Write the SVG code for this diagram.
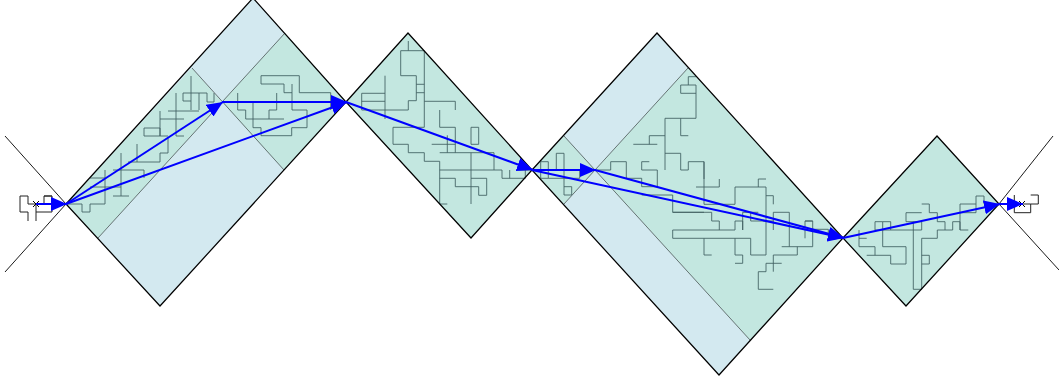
<svg xmlns="http://www.w3.org/2000/svg" width="1059" height="383" viewBox="0 0 1059 383">
<style>
.b{fill:#d3e9f0;stroke:none}
.t{fill:#c3e7e0;stroke:none}
.o{fill:none;stroke:#000;stroke-width:1.25}
.n{fill:none;stroke:#000;stroke-width:.9}
.s{fill:none;stroke:#000;stroke-opacity:.5;stroke-width:1}
.w{fill:none;stroke:#3f5f60;stroke-opacity:.85;stroke-width:1}
.k{fill:none;stroke:#222;stroke-width:1}
.a{fill:none;stroke:#00f;stroke-width:2;marker-end:url(#h)}
</style>
<defs>
<marker id="h" markerUnits="userSpaceOnUse" markerWidth="16" markerHeight="14" refX="16" refY="7" orient="auto"><path d="M0 0L16 7L0 14Z" fill="#00f"/></marker>
</defs>
<g id="region1">
<polygon class="b" points="66,204 253,-2 346,102 160,306"/>
<polygon class="t" points="66,204 192,68 222,102 98,238"/>
<polygon class="t" points="222,102 285,33 346,102 284,170"/>
<path class="s" d="M98 238L285 33M192 68L284 170"/>
<path class="w" d="M66.7 204H82V212H90V204H105V170M90 178H105M90 187H121M121 153V196M113 196H129M113 170H144V178M137 144V162M128 162H160V153H168V137M144 128H160V136H144ZM160 111V136M160 136H168M168 111H199M160 119H184M176 93V136H184M191 76V110M183 93H207V102H214V93M183 93V101H191M199 93V110M237.7 93V110H245.7V119H253V127.7H261V135.7H291.7V127.7H307V110H292V84M253 102V119H284M276.7 93V110H269V119M261 75.7V84H284V92.7H292M261 75.7H299.3V92.7H330.7V110"/>
<path class="o" d="M66 204L253 -2L346 102L160 306Z"/>
</g>
<g id="region2">
<polygon class="t" points="346,102 408,33 532,170 471,238"/>
<path class="w" d="M408.3 41V50.7M400.7 50.7H424.3V127.3H393V144.3H408.3V152.7H424.3V161.3H439.7V204H447.3M400.7 50.7V75.7H416.3V100.7H408.3V110H361.7V93.3H385M385 75.7V119M361.7 101.3H385M416.3 84.3H424.3M416.3 92.7H424.3M424.3 101.3H455.3V110M439.7 110V127.3H455.3V152.7M439.7 152.7H494V170H439.7M447.3 135.3V152.7M431.7 144.3H455.3M471 127.3H478.7V144.3H471ZM471 152.7V204M439.7 178.3H455.3V186.7H478.7V195.3H486.7V178.3H471M494 170H502V178.3H525.3V170H533.3M509.7 170V178.3M518.3 170H525.3"/>
<path class="o" d="M346 102L408 33L532 170L471 238Z"/>
</g>
<g id="region3">
<polygon class="b" points="532,170 657,33 843,238 719,375"/>
<polygon class="t" points="532,170 564,136 595,170 564,204"/>
<polygon class="t" points="595,170 688,68 843,238 750,340"/>
<path class="s" d="M564 136L750 340M564 204L688 68"/>
<path class="w" d="M540.7 161.7H548.3V178.3H540.7ZM540.7 170H579.7V178.3H548.3M556.3 170V153.3H564V195H571.7V186.7H564M595 170H610.7V161.7H626.3V178.3H641.7V186.7H657.3V170H641.7V161.7H649.3M641.7 195H672.7V212.3H704M665 170V118.3H696V85H680.7V93.3H696M688.3 85V76.7H696M680.7 118.3V135.7H688.3M633.3 144.3H657.3M649.3 144.3V135.7H665M665 153.3H680.7V170H688.3V161.7H704V179M696 187H719.3V179M704 161.7V204.3H735V187H766V255H750.7V238.3H672.7V230H735V221H742.7V230M742.7 212.3V230M672.7 212.3H711.7V221H719.3V230M742.7 212.3H758.3M750.7 212.3V221H773.3M758.3 187V179H766M766 195.7H773.3V204.3M773.3 212.3V230M773.3 212.3H789.3V246.7M781.7 246.7H812.7V221H805V238.3M805 221H812.7M812.7 229.3H828.3V237M797.3 246.7V255H773.3V271.7M766 263.3H781.7M766 263.3V271.7H758.3V289.3H773.3M704 238.3V255H711.7M735 238.3V255H742.7V263.3H735"/>
<path class="o" d="M532 170L657 33L843 238L719 375Z"/>
</g>
<g id="region4">
<polygon class="t" points="843,238 937,136 999,204 906,306"/>
<path class="w" d="M859 230V246.7M859 238.3H866.7M859 246.7H875V255.3H866.7M875 255.3H890.7V264H906V246.7H882.7V221.7H875V230H921.7V221.7H906V212.7H921.7M882.7 221.7H890.7V230M913.3 221.7V289.3H921.7V238.3H937.3V230H952.7V221.7H960V230H968.3M945 221.7V230M937.3 221.7H945M921.7 255.3H929.3V264H921.7M921.7 204H929.3V212.7H937.3V221.7M960 204V230M960 204H976V196H984V204M960 212.7H976V204"/>
<path class="o" d="M843 238L937 136L999 204L906 306Z"/>
</g>
<g id="start">
<path class="n" d="M66 204L5 136M66 204L5 272"/>
<path class="k" d="M36 204H28V196H20V212H28V221M36 204V221M36 212H52V196H44V204M44 196H52"/>
<path d="M33 201L39 207M39 201L33 207" stroke="#000" fill="none"/>
</g>
<g id="goal">
<path class="n" d="M999 204L1053 136M999 204L1059 270"/>
<path class="k" d="M1014.3 195V212.7H1030.7V204H1014.3M1030.7 195H1038.3V204H1030.7"/>
<path d="M1019 201L1025 207M1025 201L1019 207" stroke="#000" fill="none"/>
</g>
<g id="connectors">
<line class="a" x1="36" y1="204" x2="67" y2="204"/>
<line class="a" x1="66" y1="204" x2="223" y2="102"/>
<line class="a" x1="66" y1="204" x2="347" y2="102"/>
<line class="a" x1="222" y1="102" x2="347" y2="102"/>
<line class="a" x1="346" y1="102" x2="533" y2="170"/>
<line class="a" x1="532" y1="170" x2="596" y2="170"/>
<line class="a" x1="532" y1="170" x2="844" y2="238"/>
<line class="a" x1="595" y1="170" x2="844" y2="238"/>
<line class="a" x1="843" y1="238" x2="1000" y2="204"/>
<line class="a" x1="999" y1="204" x2="1023" y2="204"/>
</g>
</svg>
